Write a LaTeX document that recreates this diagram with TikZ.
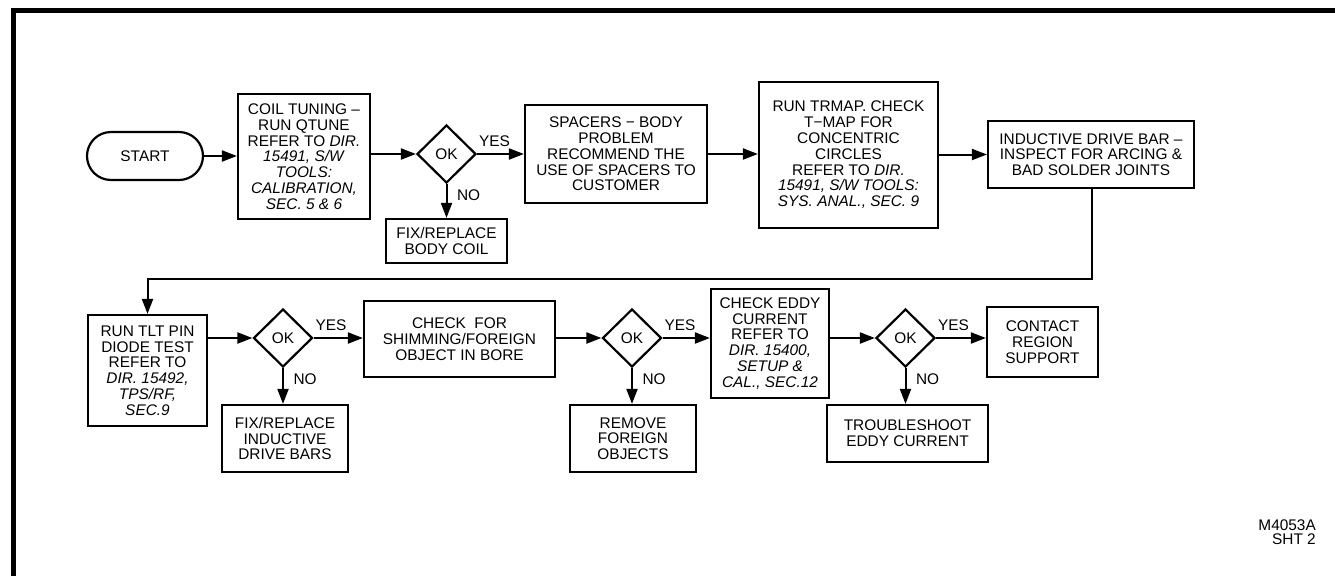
\documentclass[tikz,border=0pt]{standalone}
\usepackage{fontspec}
\setmainfont{Liberation Sans}
\usepackage{tikz}
\usetikzlibrary{shapes.geometric,arrows.meta}
\newcommand\boxfont{\fontsize{15.4}{15.8}\selectfont}
\tikzstyle{box}=[fill=white, draw=black, line width=2.2pt, shape=rectangle, align=center, inner sep=0pt, font=\boxfont]
\tikzstyle{start}=[box, rounded corners=24pt, minimum width=116pt, minimum height=48pt]
\tikzstyle{decision}=[box, shape=diamond, minimum width=59pt, minimum height=58pt]
\tikzstyle{answer}=[inner sep=0pt, font=\boxfont]
\tikzstyle{flow edge}=[-{Triangle[length=15pt, width=11pt]}, draw=black, line width=2pt]
\pgfdeclarelayer{nodelayer}
\pgfdeclarelayer{edgelayer}
\pgfsetlayers{main,nodelayer,edgelayer}
\begin{document}
\begin{tikzpicture}[x=10pt, y=-10pt]
	\useasboundingbox (0,0) rectangle (133.5,57.6);
	\draw [line width=5pt] (1.35,57.6) -- (1.35,1.08) -- (133.5,1.08);
	\begin{pgfonlayer}{nodelayer}
		\node [style=start] (0) at (14.5, 15.6) {START};
		\node [style=box, minimum width=132pt, minimum height=125pt] (1) at (30.4, 15.65) {COIL TUNING --\\RUN QTUNE\\REFER TO \textit{DIR.}\\\textit{15491, S/W}\\\textit{TOOLS:}\\\textit{CALIBRATION,}\\\textit{SEC. 5 \& 6}};
		\node [style=decision] (2) at (44.65, 15.4) {OK};
		\node [style=box, minimum width=121pt, minimum height=44pt] (3) at (44.65, 24.1) {FIX/REPLACE\\BODY COIL};
		\node [style=box, minimum width=182pt, minimum height=98pt] (4) at (61.6, 15.4) {SPACERS −  BODY\\PROBLEM\\RECOMMEND THE\\USE OF SPACERS TO\\CUSTOMER};
		\node [style=box, minimum width=179pt, minimum height=146pt] (5) at (84.85, 15.5) {RUN TRMAP. CHECK\\T−MAP FOR\\CONCENTRIC\\CIRCLES\\REFER TO \textit{DIR.}\\\textit{15491, S/W TOOLS:}\\\textit{SYS. ANAL., SEC. 9}};
		\node [style=box, minimum width=206pt, minimum height=67pt] (6) at (109.1, 15.45) {INDUCTIVE DRIVE BAR --\\INSPECT FOR ARCING \&\\BAD SOLDER JOINTS};
		\node [style=box, minimum width=119pt, minimum height=111pt] (7) at (14.75, 37.05) {RUN TLT PIN\\DIODE TEST\\REFER TO\\\textit{DIR. 15492,}\\\textit{TPS/RF,}\\\textit{SEC.9}};
		\node [style=decision] (8) at (28.3, 33.8) {OK};
		\node [style=box, minimum width=126pt, minimum height=67pt] (9) at (28.5, 43.85) {FIX/REPLACE\\INDUCTIVE\\DRIVE BARS};
		\node [style=box, minimum width=191pt, minimum height=76pt] (10) at (45.95, 33.9) {CHECK \ FOR\\SHIMMING/FOREIGN\\OBJECT IN BORE};
		\node [style=decision] (11) at (63.2, 33.8) {OK};
		\node [style=box, minimum width=126pt, minimum height=67pt] (12) at (63.3, 43.85) {REMOVE\\FOREIGN\\OBJECTS};
		\node [style=box, minimum width=118pt, minimum height=109pt] (13) at (77.0, 34.35) {CHECK EDDY\\CURRENT\\REFER TO\\\textit{DIR. 15400,}\\\textit{SETUP \&}\\\textit{CAL., SEC.12}};
		\node [style=decision] (14) at (90.55, 33.8) {OK};
		\node [style=box, minimum width=161pt, minimum height=57pt] (15) at (90.75, 43.35) {TROUBLESHOOT\\EDDY CURRENT};
		\node [style=box, minimum width=111pt, minimum height=70pt] (16) at (104.25, 34.2) {CONTACT\\REGION\\SUPPORT};
		\node [style=answer, align=right, anchor=north east, font=\fontsize{15.4}{14}\selectfont] (17) at (131.6, 52.0) {M4053A\\SHT 2};
		\coordinate (18) at (109.2, 27.9);
	\end{pgfonlayer}
	\begin{pgfonlayer}{edgelayer}
		\draw [style=flow edge] (0) to (0 -| 1.west);
		\draw [style=flow edge] (2 -| 1.east) to (2);
		\draw [style=flow edge] (2) to node [style=answer, pos=0, anchor=south west, xshift=1pt, yshift=6pt] (19) {YES} (4);
		\draw [style=flow edge] (2) to node [style=answer, pos=0, anchor=north west, xshift=9.5pt, yshift=-5pt] (20) {NO} (3);
		\draw [style=flow edge] (4) to (4 -| 5.west);
		\draw [style=flow edge] (6 -| 5.east) to (6);
		\draw [style=flow edge] (6.south -| 18) |- (18) -| (7);
		\draw [style=flow edge] (8 -| 7.east) to (8);
		\draw [style=flow edge] (8) to node [style=answer, pos=0, anchor=south west, xshift=1pt, yshift=6pt] (21) {YES} (8 -| 10.west);
		\draw [style=flow edge] (8) to node [style=answer, pos=0, anchor=north west, xshift=9.5pt, yshift=-5pt] (22) {NO} (8 |- 9.north);
		\draw [style=flow edge] (11 -| 10.east) to (11);
		\draw [style=flow edge] (11) to node [style=answer, pos=0, anchor=south west, xshift=1pt, yshift=6pt] (23) {YES} (11 -| 13.west);
		\draw [style=flow edge] (11) to node [style=answer, pos=0, anchor=north west, xshift=9.5pt, yshift=-5pt] (24) {NO} (11 |- 12.north);
		\draw [style=flow edge] (14 -| 13.east) to (14);
		\draw [style=flow edge] (14) to node [style=answer, pos=0, anchor=south west, xshift=1pt, yshift=6pt] (25) {YES} (14 -| 16.west);
		\draw [style=flow edge] (14) to node [style=answer, pos=0, anchor=north west, xshift=9.5pt, yshift=-5pt] (26) {NO} (14 |- 15.north);
	\end{pgfonlayer}
\end{tikzpicture}
\end{document}
